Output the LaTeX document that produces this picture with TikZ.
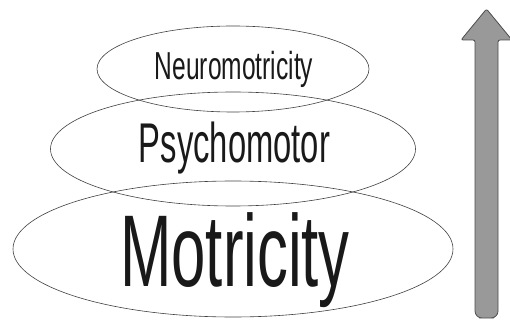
\documentclass[tikz,border=0pt]{standalone}
\usepackage{fontspec}
\setmainfont{Liberation Sans}
\usetikzlibrary{shapes.geometric}
\tikzset{
  ell/.style={ellipse, draw=black!75, line width=0.6pt, inner sep=0pt},
  lbl/.style={anchor=base, inner sep=0pt, text=black!90},
  arrowbody/.style={fill=black!40, draw=black!70, line width=0.8pt, line join=round}
}
\begin{document}
\begin{tikzpicture}[x=1pt, y=-1pt]
\useasboundingbox (0,0) rectangle (510,320);
% ellipses
\node[ell, minimum width=272pt, minimum height=86pt] (top) at (233,69) {};
\node[ell, minimum width=365pt, minimum height=114pt] (mid) at (233,149) {};
\node[ell, minimum width=440pt, minimum height=136pt] (bot) at (233,249) {};
% labels
\node[lbl] (neuro) at (234,80) {\scalebox{0.63}[1]{\fontsize{39}{39}\selectfont Neuromotricity}};
\node[lbl] (psycho) at (234.5,163) {\scalebox{0.585}[1]{\fontsize{56}{56}\selectfont Psychomotor}};
\node[lbl] (motr) at (235,286) {\scalebox{0.605}[1]{\fontsize{102}{102}\selectfont Motricity}};
% arrow
\draw[arrowbody] (486.5,318) [rounded corners=7pt] -- (475,318) [rounded corners=2pt] -- (475,40) -- (461,40) -- (486.5,9) -- (512,40) -- (498,40) [rounded corners=7pt] -- (498,318) -- cycle;
\end{tikzpicture}
\end{document}
